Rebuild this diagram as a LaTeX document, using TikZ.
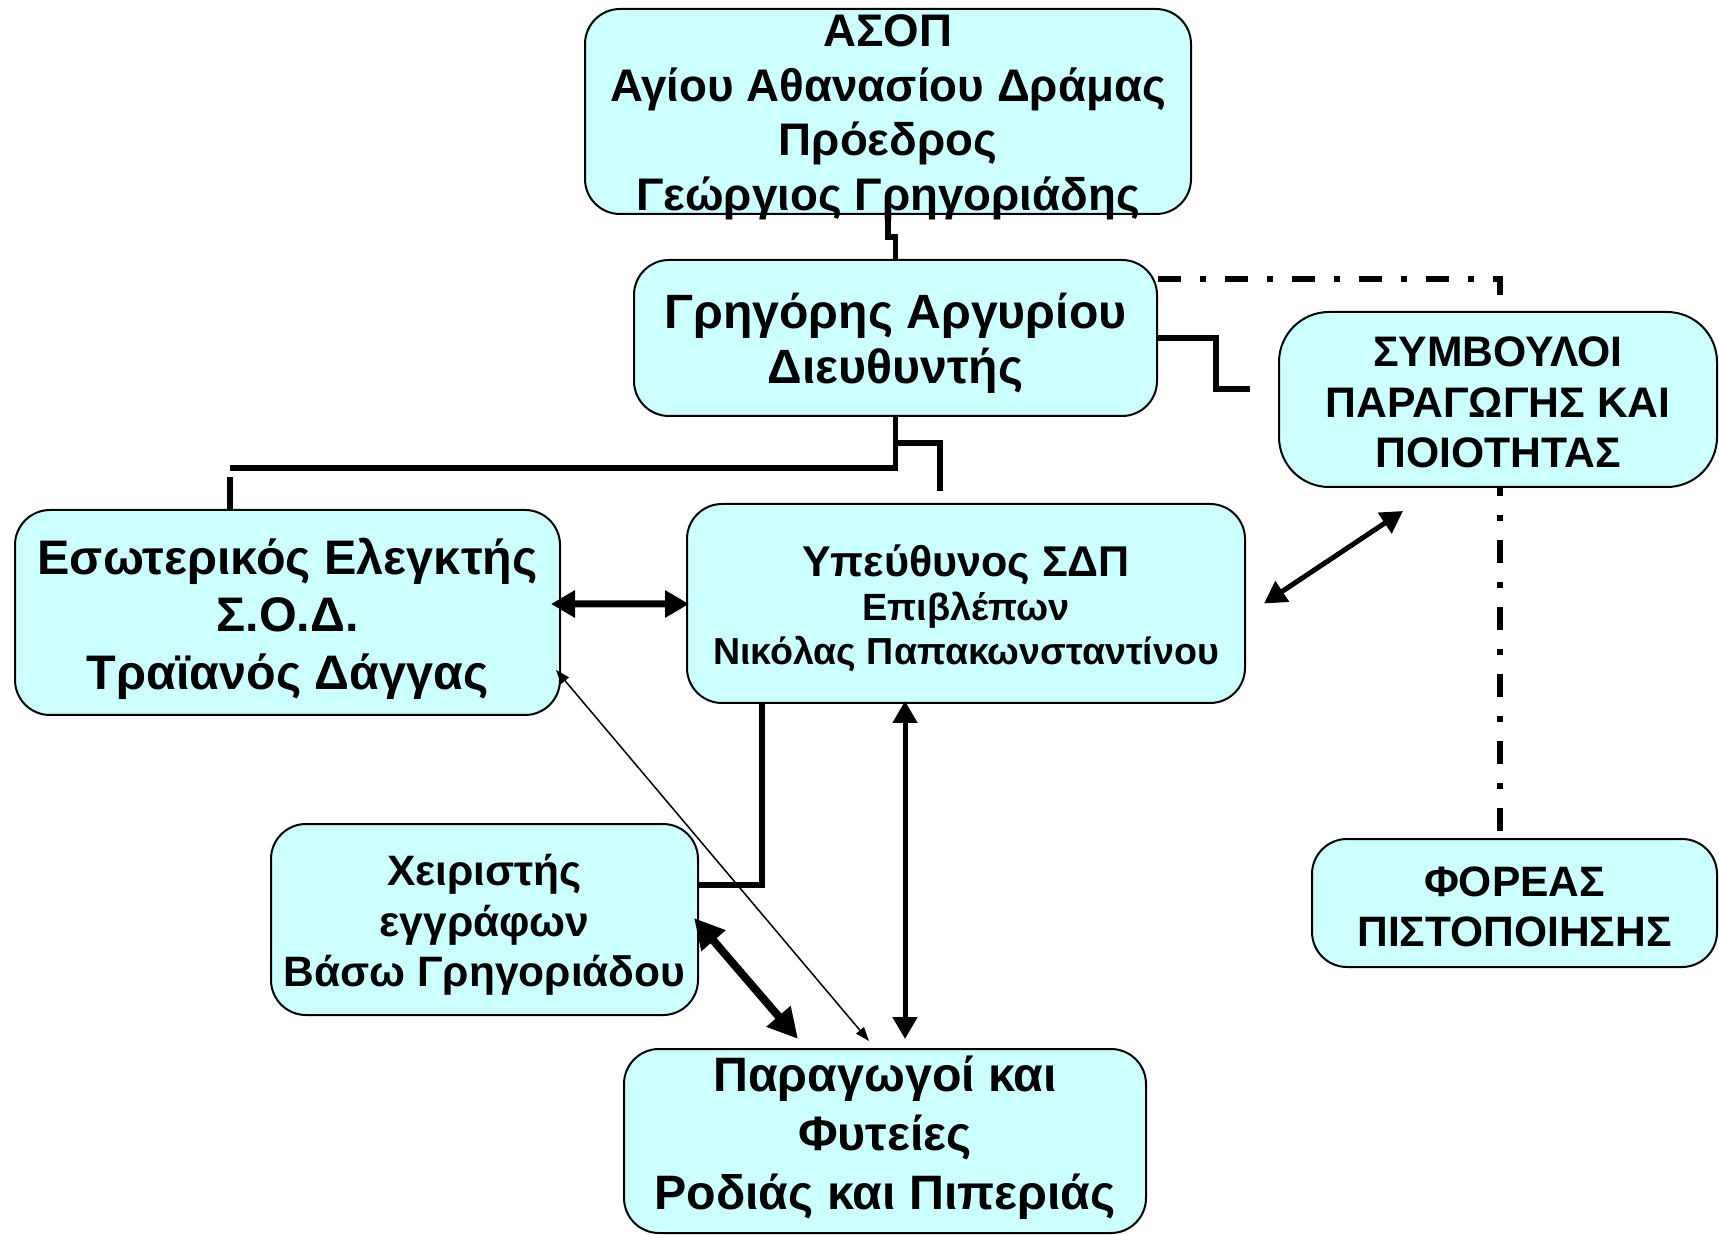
\documentclass[tikz,border=0pt]{standalone}
\usepackage{fontspec}
\setmainfont{Liberation Sans}
\usetikzlibrary{arrows.meta, backgrounds}
\definecolor{boxCyan}{HTML}{CCFFFF}
\newcommand{\fs}[2]{\fontsize{#1}{#2}\selectfont\bfseries}
\newcommand{\topstrut}[1]{\rule{0pt}{#1}}
\newcommand{\botstrut}[1]{\rule[-#1]{0pt}{#1}}

\begin{document}
\begin{tikzpicture}[x=0.1mm, y=-0.1mm,
    box/.style={draw=black, line width=0.2mm, fill=boxCyan, rounded corners=3.5mm, align=center, inner sep=0pt},
    conn/.style={line width=0.55mm},
    dashdot/.style={line width=0.6mm, dash pattern=on 2.3mm off 1.9mm on 0.6mm off 1.9mm},
    fatarrow/.style={line width=0.7mm, <->, >={Triangle[length=2.4mm, width=2.6mm]}},
    midarrow/.style={line width=0.5mm, <->, >={Triangle[length=2.2mm, width=2.4mm]}},
    thinarrow/.style={line width=0.15mm, <->, >={Triangle[length=1.4mm, width=1mm]}}]
    \useasboundingbox (0,0) rectangle (1719,1235);

    % Boxes
    \node[box, minimum width=60.6mm, minimum height=20.5mm, font=\fs{13}{15.5}] (asop) at (888,111.5)
        {\topstrut{10.5pt}\smash{ΑΣΟΠ}\\Αγίου Αθανασίου Δράμας\\Πρόεδρος\\\smash{Γεώργιος Γρηγοριάδης}\botstrut{0.72pt}};
    \node[box, minimum width=52.3mm, minimum height=15.6mm, font=\fs{13.7}{15.8}] (dir) at (895.5,338)
        {\topstrut{14.24pt}Γρηγόρης Αργυρίου\\Διευθυντής\botstrut{4pt}};
    \node[box, rounded corners=5mm, minimum width=43.8mm, minimum height=17.5mm, font=\fs{12.15}{14.4}] (symv) at (1498,399.5)
        {\topstrut{14.1pt}ΣΥΜΒΟΥΛΟΙ\\ΠΑΡΑΓΩΓΗΣ ΚΑΙ\\ΠΟΙΟΤΗΤΑΣ\botstrut{4pt}};
    \node[box, minimum width=54.5mm, minimum height=20.5mm, font=\fs{13.8}{16.36}] (eso) at (287.5,612.5)
        {\topstrut{14.86pt}Εσωτερικός Ελεγκτής\\Σ.Ο.Δ.\\Τραϊανός Δάγγας\botstrut{4pt}};
    \node[box, minimum width=55.8mm, minimum height=19.9mm, font=\fs{10.8}{12.45}] (ypeu) at (966,603.5)
        {\fs{12.25}{12.45}\topstrut{13.65pt}Υπεύθυνος ΣΔΠ\\Επιβλέπων\\\fs{10.7}{12.45}Νικόλας Παπακωνσταντίνου\botstrut{4pt}};
    \node[box, minimum width=42.7mm, minimum height=19.1mm, font=\fs{12.1}{14.44}] (xeir) at (484.5,919.5)
        {\topstrut{13.53pt}Χειριστής\\εγγράφων\\Βάσω Γρηγοριάδου\botstrut{4pt}};
    \node[box, minimum width=40.5mm, minimum height=12.8mm, font=\fs{12.1}{14.1}] (foreas) at (1514.5,903)
        {\topstrut{14.68pt}ΦΟΡΕΑΣ\\ΠΙΣΤΟΠΟΙΗΣΗΣ\botstrut{4pt}};
    \node[box, minimum width=52.2mm, minimum height=18.4mm, font=\fs{13.75}{16.78}] (parag) at (885,1141)
        {\topstrut{12pt}Παραγωγοί και\\Φυτείες\\Ροδιάς και Πιπεριάς\botstrut{6.7pt}};

    % Loose ends
    \coordinate (symvIn) at (1250,389);
    \coordinate (dashEnd) at (1500,977);
    \coordinate (esoTop) at (230,477);
    \coordinate (ypeuTop) at (940,491);

    % Dash-dot line behind the boxes
    \begin{scope}[on background layer]
        \draw[dashdot] ([yshift=-2mm]dir.north east) -| (dashEnd);
    \end{scope}

    % Lines
    \draw[conn] (asop.south) -- ++(0,22) -| (dir.north);
    \draw[conn] (dir.east) -- ++(58,0) |- (symvIn);
    \draw[conn] (dir.south) -- (dir.south |- 0,468) -- (esoTop |- 0,468);
    \draw[conn] (esoTop) -- (esoTop |- eso.north);
    \draw[conn] (dir.south |- 0,443) -| (ypeuTop);
    \draw[conn] (ypeu.south -| 762,0) |- (xeir.east |- 0,885);

    % Arrows
    \draw[fatarrow] ([shift={(-10,-8.5)}]eso.east) -- ([shift={(3,0.5)}]ypeu.west);
    \draw[midarrow] ([shift={(18,0)}]ypeu.east) -- ([shift={(-95,23)}]symv.south);
    \draw[midarrow] ([shift={(-61,-3)}]ypeu.south) -- ([shift={(20,-9)}]parag.north);
    \draw[line width=0.8mm, <->, >={Triangle[length=3mm, width=3mm]}] ([shift={(-5,-1.5)}]xeir.east) -- ([shift={(-87,-9)}]parag.north);
    \draw[thinarrow] ([shift={(-5,57.5)}]eso.east) -- ([shift={(-16,-7)}]parag.north);
\end{tikzpicture}
\end{document}
